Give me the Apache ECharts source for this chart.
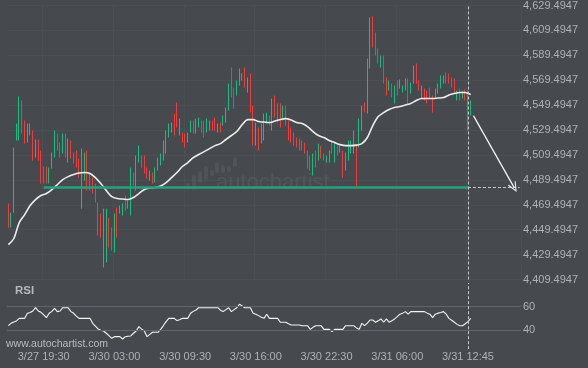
<!DOCTYPE html>
<html>
<head>
<meta charset="utf-8">
<script src="https://cdn.jsdelivr.net/npm/echarts@6/dist/echarts.min.js"></script>
<style>
html,body{margin:0;padding:0;background:#464a4f;}
#c{width:588px;height:368px;}
</style>
</head>
<body>
<div id="c"></div>
<script>
// ---- data (15-minute candles) ----
const opens = [4467.5,4453,4466,4523,4527,4549,4534,4522,4527,4526,
4510,4519,4509,4498,4497,4488,4500,4510,4524,4517,
4512,4524,4506,4519,4510,4511,4504,4493,4492,4509,
4492,4489,4484,4468,4459,4428,4432,4456,4448,4435,
4463,4463.5,4462,4475,4467.5,4466,4493.5,4485,4505.5,4507.5,
4507,4498,4490,4494,4489,4498.5,4502.5,4507,4513,4525,
4528.5,4540,4548.5,4527,4526,4525,4520.5,4529,4535.5,4528.5,
4532.5,4535.5,4535,4529,4530.5,4535.5,4538,4528.5,4534,4534.5,
4537.5,4548.5,4576,4561,4559,4567.5,4570,4577,4561.5,4570,
4545,4520,4528.5,4521,4524.5,4536,4539.5,4533,4554.5,4548.5,
4548,4539,4546.5,4534.5,4529.5,4526,4522,4521,4519.5,4518,
4510.5,4507,4496,4511,4507,4515.5,4509.5,4504.5,4505,4519.5,
4506,4515.5,4512.5,4510,4499,4507,4512,4513,4516,4518.5,
4532,4550,4546,4584,4617,4605,4593,4581,4586,4569.5,
4562.5,4565,4553,4567.5,4564,4560.5,4562.5,4568,4560,4569,
4580.5,4568,4556.5,4561.5,4559.5,4562,4555,4557,4560,4564.5,
4568,4574.5,4573.5,4570.5,4569,4554.5,4561.5,4556,4561,4558,
4543];
const closes = [4454,4461,4512,4532,4551,4531,4522,4532,4533,4509,
4519,4508,4490,4489,4488,4497,4509,4526,4515,4509,
4524,4510,4520,4509,4504,4501,4494,4510,4508,4485,
4483,4480,4474,4448,4446,4462,4463,4439,4436,4458,
4447,4467.5,4469,4467,4471.5,4494,4487,4505,4515,4501,
4497,4492,4495.5,4488,4497.5,4505.5,4509,4518.5,4526,4532.5,
4534,4528,4534.5,4536.5,4521,4517,4526,4535.5,4528,4537,
4538,4529,4525.5,4537,4535.5,4530.5,4530.5,4533.5,4529,4539.5,
4545.5,4563.5,4559.5,4549.5,4567.5,4576.5,4574,4566,4570,4548,
4521,4532.5,4516,4532,4539.5,4542,4534.5,4551,4542,4538,
4534.5,4547,4536,4523.5,4521.5,4519,4517,4515,4514.5,4512,
4501,4499,4507.5,4501.5,4516,4508.5,4506,4508,4511,4512.5,
4516.5,4510.5,4516,4495,4509,4518.5,4519,4526,4505,4535.5,
4546,4545,4581,4614,4599,4592,4585,4588,4570,4559.5,
4568,4557.5,4563,4559,4569,4564,4569,4554,4566,4579,
4569,4562.5,4563.5,4554.5,4552.5,4556,4546,4561.5,4565.5,4571.5,
4572,4568,4568.5,4565,4561,4560,4554.5,4560,4554.5,4532,
4551.5];
const lows = [4451.2,4451.2,4463.2,4521.1,4521.1,4526.7,4518.6,4519.4,4525.1,4505.0,
4507.4,4505.0,4486.5,4486.5,4486.5,4486.5,4498.6,4507.4,4513.0,4507.4,
4510.6,4507.4,4503.4,4506.6,4502.6,4499.4,4491.3,4466.4,4488.9,4480.9,
4480.9,4478.5,4471.3,4444.8,4443.1,4419.1,4423.1,4435.1,4432.7,4431.1,
4443.1,4462.4,4460.8,4464.8,4466.4,4460.8,4484.9,4480.9,4503.4,4499.4,
4494.6,4490.5,4488.9,4486.5,4487.3,4497.0,4501.0,4505.0,4510.6,4523.5,
4527.5,4525.1,4531.5,4525.1,4519.4,4515.4,4519.4,4527.5,4526.7,4526.7,
4531.5,4527.5,4523.5,4527.5,4529.1,4529.1,4529.1,4527.5,4527.5,4533.1,
4535.5,4545.2,4555.6,4546.8,4557.2,4565.2,4569.3,4563.6,4559.6,4543.5,
4517.0,4517.0,4513.0,4518.6,4521.1,4534.7,4533.1,4529.1,4539.5,4535.5,
4531.5,4537.1,4533.1,4521.1,4519.4,4517.0,4515.4,4513.0,4513.0,4510.6,
4498.6,4497.0,4492.9,4499.4,4505.0,4506.6,4505.0,4503.4,4503.4,4510.6,
4503.4,4509.0,4511.4,4491.3,4497.0,4505.0,4510.6,4510.6,4483.6,4515.4,
4529.1,4543.5,4542.7,4578.9,4595.8,4589.3,4582.9,4579.7,4566.8,4557.2,
4561.2,4555.6,4550.8,4557.2,4562.8,4559.6,4561.2,4550.8,4558.8,4566.8,
4566.8,4561.2,4554.8,4553.2,4550.8,4554.8,4543.5,4555.6,4558.8,4562.8,
4566.8,4566.8,4566.8,4563.6,4558.8,4553.2,4553.2,4554.8,4553.2,4529.1,
4541.1];
const highs = [4470.5,4463.2,4515.4,4534.7,4556.4,4553.2,4537.1,4534.7,4534.7,4529.1,
4521.9,4521.9,4513.0,4500.2,4500.2,4499.4,4511.4,4529.1,4526.7,4519.4,
4526.7,4526.7,4522.7,4521.1,4511.4,4513.0,4506.6,4514.6,4511.4,4513.0,
4494.6,4491.3,4486.5,4471.3,4462.4,4466.4,4466.4,4459.2,4451.2,4462.4,
4467.3,4468.9,4470.5,4476.9,4472.9,4499.4,4495.4,4509.0,4517.0,4509.0,
4509.0,4499.4,4497.0,4495.4,4499.4,4507.4,4510.6,4521.1,4529.1,4534.7,
4535.5,4542.7,4551.6,4538.7,4527.5,4526.7,4527.5,4537.1,4537.1,4538.7,
4539.5,4537.1,4537.1,4538.7,4537.1,4537.1,4539.5,4534.7,4535.5,4541.1,
4547.6,4566.8,4579.7,4563.6,4569.3,4578.9,4574.9,4579.7,4571.7,4574.9,
4549.2,4535.5,4531.5,4534.7,4542.7,4543.5,4541.1,4554.8,4557.2,4550.8,
4550.8,4549.2,4549.2,4537.1,4531.5,4527.5,4523.5,4522.7,4521.1,4519.4,
4513.0,4509.0,4510.6,4513.0,4518.6,4517.0,4510.6,4509.0,4513.0,4521.1,
4519.4,4517.0,4517.0,4513.0,4511.4,4521.1,4521.1,4529.1,4517.0,4538.7,
4549.2,4551.6,4586.9,4619.9,4620.7,4607.8,4595.0,4589.3,4589.3,4571.7,
4569.3,4566.8,4565.2,4569.3,4570.1,4565.2,4570.9,4570.9,4567.6,4581.3,
4582.9,4569.3,4565.2,4562.8,4561.2,4563.6,4557.2,4562.8,4566.8,4573.3,
4573.3,4575.7,4574.9,4571.7,4570.9,4561.2,4562.8,4561.2,4562.0,4561.2,
4553.2];
// moving average, read every 2nd candle
const maStep = 2;
const maValues = [4437.5,4442.4,4455.2,4461.6,4468.9,4473.7,4476.9,4478.5,4481.7,4485.7,
4489.7,4492.1,4493.8,4495.0,4495.4,4494.6,4491.3,4486.5,4480.9,4476.1,
4474.5,4474.1,4473.7,4475.3,4478.5,4481.7,4482.9,4483.3,4484.5,4487.3,
4491.3,4495.4,4500.2,4503.4,4507.4,4509.8,4512.2,4514.6,4517.0,4518.6,
4521.9,4525.1,4528.3,4533.9,4537.9,4537.9,4536.3,4535.9,4535.5,4536.7,
4537.9,4538.7,4537.5,4535.5,4534.7,4532.3,4528.3,4525.1,4523.5,4521.1,
4519.4,4517.8,4517.0,4517.0,4517.4,4518.6,4523.5,4533.1,4540.3,4543.5,
4546.0,4547.6,4548.4,4549.6,4550.8,4553.2,4554.8,4554.8,4554.8,4555.2,
4555.6,4557.6,4558.8,4559.6,4559.6,4558.0];
const rsi = [43.9,45.9,47,47.9,50.1,50.1,50.1,54.4,55,56.3,
59.1,56.3,55.2,53,50.7,54.4,56,58.6,55.8,56.3,
59.1,59.1,59.1,55.8,54.4,52,50.1,50.1,50.1,50.1,
50.1,45.9,43.5,41.1,40,39.4,37.5,35.5,33.2,34.6,
34.6,34.6,32.6,34.6,35,35.2,37.5,39.4,43.1,41,
39.4,34.6,36.5,38.3,38.3,38.3,40.8,44,47.3,50.1,
50.1,50.1,48.2,49,50.1,50.1,50.1,54.4,56,57.2,
59.1,59.1,59.1,59.1,59.1,59.1,59.1,59.1,57,55.8,
57.5,59.1,55.8,57.5,59.1,62,60.5,59.1,59.1,59.1,
54.4,53.5,52.4,51,50.1,53.6,50.1,50.1,50.1,50.1,
46.8,46.8,46.8,45.5,44.5,44.5,44.5,44.5,43.9,43.9,
43.9,40.8,42.5,43.9,43.9,43.9,40.8,40.8,40.8,38.8,
40.8,40.8,40.8,40.8,43.9,43.9,43.9,43.9,42,40.8,
45.9,43.9,46,48.7,48.7,46.8,48,49.6,46.8,49.6,
46.8,48,49.6,51.5,53.6,54.5,55.8,53.6,55.8,55.8,
55.8,55.8,55.8,55.8,54.5,53.6,50.7,53.6,54.5,55,
55.8,53.6,50.1,48.5,46.8,45,43.9,43.9,45.5,47.3,
50.1];
const tickIndex = [13,39,65,91,117,143,169];
const tickLabels = ['3/27 19:30','3/30 03:00','3/30 09:30','3/30 16:00','3/30 22:30','3/31 06:00','3/31 12:45'];
const futureSlots = 18;
const yBase = 4409.4947, yTop = 4629.4947, yStep = 20;
const supportLevel = 4483.3;
const arrowStart = 4541.1;
const arrowFromIdx = 171, arrowToIdx = 186;
const nowIdx = 169;
const rsiLevels = [60, 40];

// ---- build ----
const N = opens.length;
const cats = Array.from({length: N + futureSlots}, (_, i) => String(i));
const candleData = opens.map((o, i) => [o, closes[i], lows[i], highs[i]]);
const maData = maValues.map((v, k) => [k * maStep, v]);
function fmt(v){ const s = v.toFixed(4).split('.'); return s[0].replace(/\B(?=(\d{3})+(?!\d))/g, ',') + '.' + s[1]; }
const isTick = (i) => tickIndex.indexOf(i) >= 0;
const TXT = '#aeb1b5';
const FONT = 'Liberation Sans, Arial, sans-serif';
const faint = 'rgba(255,255,255,0.028)';
const chevron = 'path://M0,10 L5,0 L10,10 L8.7,10 L5,2.6 L1.3,10 Z';
const dashStyle = {color: '#c9cacc', width: 1, type: [3, 2]};

const chart = echarts.init(document.getElementById('c'), null, {renderer: 'canvas'});
chart.setOption({
  animation: false,
  backgroundColor: '#464a4f',
  textStyle: {fontFamily: FONT},
  grid: [
    {left: 7, right: 67, top: 5, height: 274.5},
    {left: 7, right: 67, top: 283, height: 66.2}
  ],
  xAxis: [
    {type: 'category', gridIndex: 0, data: cats, boundaryGap: true,
     axisLine: {show: false}, axisTick: {show: false, alignWithLabel: true}, axisLabel: {show: false},
     splitLine: {show: true, interval: (i) => isTick(i), lineStyle: {color: faint}}},
    {type: 'category', gridIndex: 1, data: cats, boundaryGap: true,
     axisLine: {show: false}, axisTick: {show: false, alignWithLabel: true},
     axisLabel: {show: true, interval: (i) => isTick(i), margin: 2, color: TXT, fontSize: 11, fontFamily: FONT,
       formatter: (v, i) => { const k = tickIndex.indexOf(i); return k >= 0 ? tickLabels[k] : ''; }},
     splitLine: {show: false}}
  ],
  yAxis: [
    {type: 'value', gridIndex: 0, min: yBase, max: yTop, show: false},
    {type: 'value', gridIndex: 0, position: 'right', min: 0, max: yTop - yBase, interval: yStep,
     axisLine: {show: false}, axisTick: {show: false},
     axisLabel: {color: TXT, fontSize: 11, margin: 2, fontFamily: FONT, formatter: (v) => fmt(yBase + v)},
     splitLine: {show: true, lineStyle: {color: faint}}},
    {type: 'value', gridIndex: 1, min: 24, max: 80, show: false}
  ],
  series: [
    {type: 'candlestick', xAxisIndex: 0, yAxisIndex: 0, data: candleData, barWidth: 1,
     itemStyle: {color: '#13c07f', color0: '#f23b3d', borderColor: '#13c07f', borderColor0: '#f23b3d', borderWidth: 1},
     emphasis: {disabled: true}, silent: true,
     markLine: {silent: true, animation: false, label: {show: false}, emphasis: {disabled: true},
       symbol: ['none', 'none'],
       data: [
         [{coord: [13, supportLevel], lineStyle: {color: '#22a37b', width: 2.5, type: 'solid'}},
          {coord: [nowIdx, supportLevel]}],
         [{coord: [nowIdx, supportLevel], lineStyle: dashStyle},
          {coord: [N + futureSlots - 1, supportLevel]}],
         [{coord: [arrowFromIdx, arrowStart], lineStyle: {color: '#f2f2f2', width: 1.3, type: 'solid'}},
          {coord: [arrowToIdx, supportLevel], symbol: chevron, symbolSize: [9, 10]}],
         {xAxis: nowIdx, lineStyle: dashStyle}
       ]}},
    {type: 'line', xAxisIndex: 0, yAxisIndex: 0, data: maData, showSymbol: false, smooth: 0.3,
     lineStyle: {color: '#ececec', width: 1.6}, silent: true},
    {type: 'line', xAxisIndex: 1, yAxisIndex: 2, data: rsi, showSymbol: false,
     lineStyle: {color: '#f4f4f4', width: 1.1}, silent: true,
     markLine: {silent: true, animation: false, symbol: ['none', 'none'],
       data: [
         ...rsiLevels.map(v => ({yAxis: v, lineStyle: {color: '#62666b', width: 1, type: 'solid'},
            label: {show: true, position: 'end', distance: 2, formatter: String(v), color: TXT, fontSize: 11, fontFamily: FONT}})),
         {xAxis: nowIdx, lineStyle: dashStyle, label: {show: false}}
       ]}}
  ],
  graphic: [
    {type: 'text', left: 15, top: 285, style: {text: 'RSI', fill: '#b6b8bb', font: 'bold 11.5px ' + FONT}},
    {type: 'text', left: 6, top: 339, style: {text: 'www.autochartist.com', fill: '#b9bbbe', font: '10.5px ' + FONT}},
    {type: 'text', left: 216, top: 172, style: {text: 'autochartist', fill: 'rgba(255,255,255,0.06)', font: '22px ' + FONT}},
    {type: 'group', left: 186, top: 157, children: [
      {type: 'rect', shape: {x: 0, y: 26, width: 4, height: 7, r: 2}, style: {fill: 'rgba(255,255,255,0.06)'}},
      {type: 'rect', shape: {x: 6, y: 18, width: 4, height: 15, r: 2}, style: {fill: 'rgba(255,255,255,0.06)'}},
      {type: 'rect', shape: {x: 12, y: 14, width: 4, height: 12, r: 2}, style: {fill: 'rgba(255,255,255,0.06)'}},
      {type: 'rect', shape: {x: 18, y: 9, width: 4, height: 14, r: 2}, style: {fill: 'rgba(255,255,255,0.06)'}},
      {type: 'rect', shape: {x: 24, y: 13, width: 4, height: 6, r: 2}, style: {fill: 'rgba(255,255,255,0.06)'}},
      {type: 'rect', shape: {x: 29, y: 5, width: 4, height: 11, r: 2}, style: {fill: 'rgba(255,255,255,0.06)'}},
      {type: 'rect', shape: {x: 35, y: 8, width: 4, height: 8, r: 2}, style: {fill: 'rgba(255,255,255,0.06)'}},
      {type: 'rect', shape: {x: 41, y: 9, width: 4, height: 6, r: 2}, style: {fill: 'rgba(255,255,255,0.06)'}},
      {type: 'rect', shape: {x: 47, y: 0, width: 4, height: 10, r: 2}, style: {fill: 'rgba(255,255,255,0.06)'}}
    ]}
  ]
});
</script>
</body>
</html>
